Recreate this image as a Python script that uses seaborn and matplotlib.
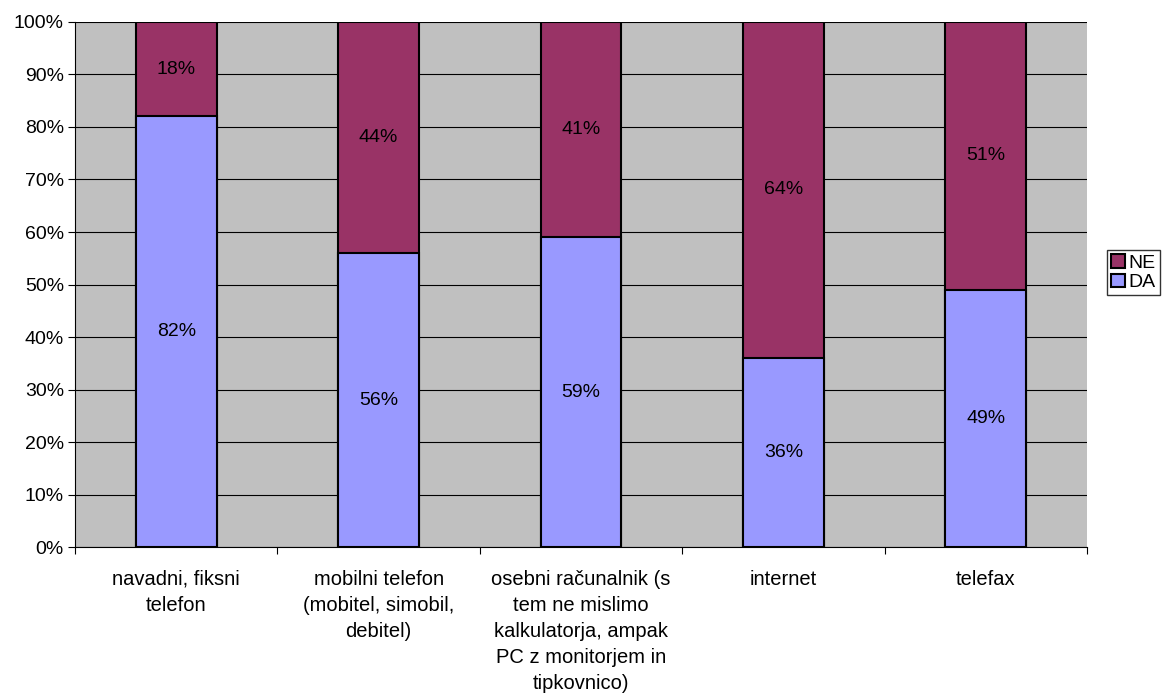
import pandas as pd
import seaborn as sns
import matplotlib.pyplot as plt
import numpy as np

categories = [
    'navadni, fiksni\ntelefon',
    'mobilni telefon\n(mobitel, simobil,\ndebitel)',
    'osebni računalnik (s\ntem ne mislimo\nkalkulatorja, ampak\nPC z monitorjem in\ntipkovnico)',
    'internet',
    'telefax',
]
da_values = [82, 56, 59, 36, 49]
ne_values = [18, 44, 41, 64, 51]

df = pd.DataFrame({'kategorija': categories, 'DA': da_values, 'NE': ne_values})
df['total'] = df['DA'] + df['NE']

plt.rcParams['font.family'] = ['Liberation Sans', 'DejaVu Sans']
plt.rcParams['font.size'] = 14

fig = plt.figure(figsize=(11.69, 6.98), dpi=100)
ax = fig.add_axes([0.0642, 0.2163, 0.8656, 0.7522])
ax.set_facecolor('#C0C0C0')

# NE drawn as full stack, DA over it
sns.barplot(data=df, x='kategorija', y='total', color='#993366', width=0.4,
            edgecolor='black', linewidth=1.5, saturation=1, ax=ax, label='NE')
sns.barplot(data=df, x='kategorija', y='DA', color='#9999FF', width=0.4,
            edgecolor='black', linewidth=1.5, saturation=1, ax=ax, label='DA')

ax.set_ylim(0, 100)
ax.set_xlim(-0.5, len(categories) - 0.5)
ax.set_yticks(np.arange(0, 101, 10))
ax.set_yticklabels([f'{v}%' for v in range(0, 101, 10)])
ax.yaxis.grid(True, color='black', linewidth=0.8)
ax.set_axisbelow(True)

# category boundaries get tick marks, labels sit at centres
ax.set_xticks(np.arange(-0.5, len(categories), 1))
ax.set_xticklabels([])
ax.set_xticks(range(len(categories)), minor=True)
ax.set_xticklabels(categories, minor=True, linespacing=1.47, fontsize=14.5)
ax.tick_params(axis='x', which='major', length=5, color='black')
ax.tick_params(axis='x', which='minor', length=0, pad=16.5)
ax.tick_params(axis='y', length=5, color='black', pad=3)
ax.set_xlabel('')
ax.set_ylabel('')

for s in ['top', 'right']:
    ax.spines[s].set_visible(False)
for s in ['left', 'bottom']:
    ax.spines[s].set_color('black')

for i, (da, ne) in enumerate(zip(da_values, ne_values)):
    ax.text(i, da / 2, f'{da}%', ha='center', va='center')
    ax.text(i, da + ne / 2, f'{ne}%', ha='center', va='center')

ax.legend(loc='upper left', bbox_to_anchor=(1107 / 1169, 1 - 250 / 698),
          bbox_transform=fig.transFigure, frameon=True,
          fancybox=False, edgecolor='black', handlelength=0.72, handleheight=0.72,
          handletextpad=0.2, borderpad=0.2, labelspacing=0.1, borderaxespad=0)

fig.savefig('out.png', dpi=100)
